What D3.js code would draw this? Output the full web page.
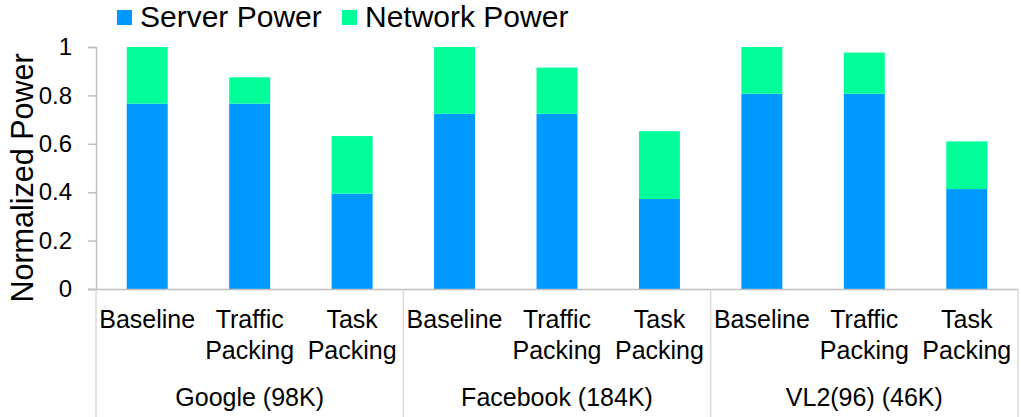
<!DOCTYPE html>
<html>
<head>
<meta charset="utf-8">
<script src="https://cdn.jsdelivr.net/npm/d3@7"></script>
<style>
  body { margin: 0; background: #fff; }
  text { font-family: "Liberation Sans", Arial, sans-serif; fill: #000; }
</style>
</head>
<body>
<svg id="chart" width="1021" height="417" viewBox="0 0 1021 417"></svg>
<script>
// data
const groups = ["Google (98K)", "Facebook (184K)", "VL2(96) (46K)"]
const schemes = [["Baseline"], ["Traffic", "Packing"], ["Task", "Packing"]]
const serverPower = [0.766, 0.766, 0.394, 0.724, 0.724, 0.372, 0.807, 0.807, 0.413]
const networkPower = [0.234, 0.109, 0.238, 0.276, 0.191, 0.280, 0.193, 0.170, 0.197]
const yTicks = [0, 0.2, 0.4, 0.6, 0.8, 1]
const seriesNames = ["Server Power", "Network Power"]
const seriesColors = ["#0099ff", "#00ff99"]

const svg = d3.select("#chart")
const plotLeft = 96, plotRight = 1018, plotTop = 47, plotBottom = 289

// one row per bar
const rows = []
groups.forEach((g, gi) => {
    schemes.forEach((s, si) => {
        const i = gi * schemes.length + si
        rows.push({key: i, group: g, label: s, server: serverPower[i], network: networkPower[i]})
    })
})

const x = d3.scaleBand()
    .domain(rows.map(d => d.key))
    .range([plotLeft, plotRight])
    .paddingInner(0.6)
    .paddingOuter(0.3)

const y = d3.scaleLinear()
    .domain([0, 1])
    .range([plotBottom, plotTop])

// y axis
const yAxis = svg.append("g")
    .attr("transform", `translate(${plotLeft},0)`)
    .call(d3.axisLeft(y).tickValues(yTicks).tickSize(8).tickPadding(16)
        .tickFormat(d => d3.format("")(+d.toFixed(1))))
yAxis.select(".domain").attr("stroke", "#bfbfbf").attr("stroke-width", 1.5)
yAxis.selectAll(".tick line").attr("stroke", "#bfbfbf").attr("stroke-width", 1.5)
yAxis.selectAll(".tick text")
    .style("font-size", "24px")
    .style("font-family", "Liberation Sans, Arial, sans-serif")
    .attr("fill", "#000")

// stacked bars
const stack = d3.stack().keys(["server", "network"])(rows)
svg.append("g").selectAll("g")
    .data(stack)
    .join("g")
    .attr("fill", (d, i) => seriesColors[i])
    .selectAll("rect")
    .data(d => d)
    .join("rect")
    .attr("x", d => x(d.data.key))
    .attr("width", x.bandwidth())
    .attr("y", d => y(d[1]))
    .attr("height", d => y(d[0]) - y(d[1]))

// x axis line and group separators
svg.append("line")
    .attr("x1", plotLeft - 8).attr("x2", plotRight)
    .attr("y1", plotBottom + 0.5).attr("y2", plotBottom + 0.5)
    .attr("stroke", "#bfbfbf").attr("stroke-width", 1.5)
d3.range(groups.length + 1).forEach(k => {
    const xs = plotLeft + k * schemes.length * (plotRight - plotLeft) / rows.length
    svg.append("line")
        .attr("x1", xs).attr("x2", xs)
        .attr("y1", plotBottom).attr("y2", 417)
        .attr("stroke", "#d9d9d9").attr("stroke-width", 1.5)
})

// category labels
const catLabels = svg.append("g").selectAll("text")
    .data(rows)
    .join("text")
    .attr("text-anchor", "middle")
    .style("font-size", "25px")
    .attr("x", d => x(d.key) + x.bandwidth() / 2)
    .attr("y", 328)
catLabels.selectAll("tspan")
    .data(d => d.label.map(t => ({t, x: x(d.key) + x.bandwidth() / 2})))
    .join("tspan")
    .attr("x", d => d.x)
    .attr("dy", (d, i) => i === 0 ? 0 : 31)
    .text(d => d.t)

// group labels
const groupWidth = (plotRight - plotLeft) / groups.length
svg.append("g").selectAll("text")
    .data(groups)
    .join("text")
    .attr("text-anchor", "middle")
    .style("font-size", "25px")
    .attr("x", (d, i) => plotLeft + groupWidth * (i + 0.5))
    .attr("y", 406)
    .text(d => d)

// y title
svg.append("text")
    .attr("transform", "translate(33,178) rotate(-90)")
    .attr("text-anchor", "middle")
    .style("font-size", "30.5px")
    .text("Normalized Power")

// legend
const legendX = [117, 342]
const legend = svg.append("g").selectAll("g")
    .data(seriesNames)
    .join("g")
    .attr("transform", (d, i) => `translate(${legendX[i]},10)`)
legend.append("rect")
    .attr("width", 15).attr("height", 15)
    .attr("fill", (d, i) => seriesColors[i])
legend.append("text")
    .attr("x", 23).attr("y", 17)
    .style("font-size", "30px")
    .text(d => d)
</script>
</body>
</html>
